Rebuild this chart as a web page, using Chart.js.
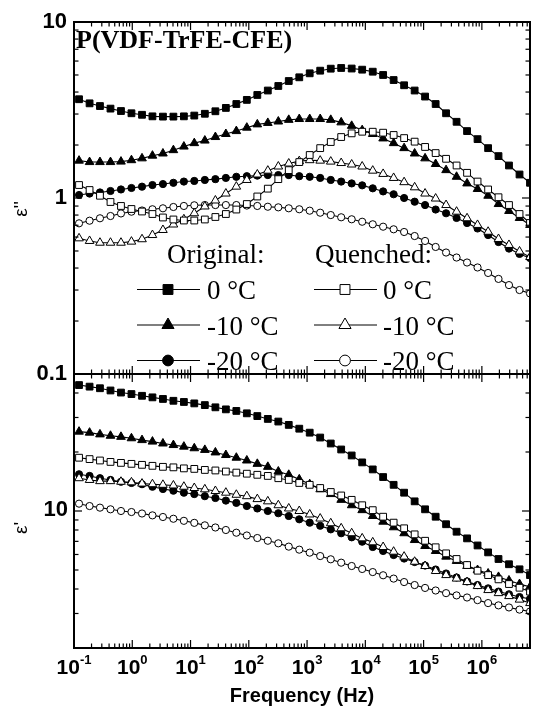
<!DOCTYPE html>
<html>
<head>
<meta charset="utf-8">
<script src="https://cdn.jsdelivr.net/npm/chart.js@4/dist/chart.umd.min.js"></script>
<style>
  html, body { margin: 0; padding: 0; background: #fff; }
  #wrap { width: 533px; height: 709px; }
</style>
</head>
<body>
<div id="wrap"><canvas id="chart" width="533" height="709"></canvas></div>
<script>
/* frequency (Hz) of each measurement point */
const freqHz = [0.122, 0.185, 0.279, 0.423, 0.640, 0.968, 1.47, 2.22, 3.36, 5.08,
  7.69, 11.6, 17.6, 26.7, 40.4, 61.1, 92.5, 140, 212, 321,
  485, 735, 1110, 1680, 2550, 3850, 5830, 8830, 13400, 20200,
  30600, 46300, 70200, 106000, 161000, 243000, 368000, 557000, 843000, 1280000,
  1930000, 2920000, 4430000, 6700000];

/* dielectric loss e'' */
const lossOrig0 = [3.64, 3.45, 3.33, 3.22, 3.12, 3.03, 2.97, 2.91, 2.90, 2.90,
  2.91, 2.94, 3.01, 3.11, 3.25, 3.42, 3.61, 3.85, 4.08, 4.33,
  4.62, 4.85, 5.11, 5.29, 5.43, 5.48, 5.44, 5.36, 5.22, 5.00,
  4.68, 4.37, 4.08, 3.77, 3.42, 3.03, 2.71, 2.40, 2.16, 1.92,
  1.73, 1.53, 1.36, 1.22];
const lossOrig10 = [1.63, 1.60, 1.60, 1.60, 1.61, 1.64, 1.68, 1.74, 1.79, 1.87,
  1.96, 2.05, 2.12, 2.22, 2.31, 2.40, 2.51, 2.62, 2.67, 2.72,
  2.78, 2.81, 2.81, 2.81, 2.78, 2.69, 2.57, 2.43, 2.31, 2.18,
  2.05, 1.92, 1.79, 1.68, 1.56, 1.44, 1.32, 1.21, 1.125, 1.03,
  0.924, 0.844, 0.770, 0.703];
const lossOrig20 = [1.04, 1.06, 1.075, 1.096, 1.118, 1.14, 1.16, 1.185, 1.20, 1.22,
  1.24, 1.25, 1.266, 1.28, 1.30, 1.32, 1.33, 1.34, 1.35, 1.35,
  1.35, 1.33, 1.32, 1.30, 1.266, 1.24, 1.21, 1.18, 1.135, 1.09,
  1.05, 1.00, 0.953, 0.912, 0.860, 0.819, 0.770, 0.721, 0.671, 0.616,
  0.562, 0.516, 0.481, 0.456];
const lossQuen0 = [1.185, 1.11, 1.03, 0.949, 0.901, 0.866, 0.838, 0.811, 0.775, 0.755,
  0.745, 0.745, 0.755, 0.780, 0.811, 0.860, 0.924, 1.02, 1.13, 1.28,
  1.44, 1.60, 1.755, 1.92, 2.08, 2.22, 2.33, 2.38, 2.38, 2.35,
  2.28, 2.19, 2.09, 1.95, 1.80, 1.67, 1.53, 1.39, 1.24, 1.118,
  1.01, 0.912, 0.811, 0.721];
const lossQuen10 = [0.590, 0.570, 0.557, 0.557, 0.557, 0.565, 0.583, 0.616, 0.658, 0.707,
  0.757, 0.819, 0.895, 0.968, 1.06, 1.16, 1.266, 1.36, 1.43, 1.51,
  1.57, 1.62, 1.64, 1.63, 1.61, 1.58, 1.55, 1.51, 1.43, 1.37,
  1.30, 1.23, 1.15, 1.06, 0.993, 0.912, 0.836, 0.767, 0.703, 0.643,
  0.585, 0.541, 0.497, 0.462];
const lossQuen20 = [0.718, 0.743, 0.767, 0.790, 0.817, 0.836, 0.849, 0.863, 0.874, 0.889,
  0.901, 0.909, 0.912, 0.912, 0.912, 0.912, 0.906, 0.901, 0.892, 0.885,
  0.874, 0.863, 0.847, 0.825, 0.800, 0.777, 0.757, 0.733, 0.709, 0.687,
  0.664, 0.641, 0.608, 0.570, 0.527, 0.490, 0.459, 0.430, 0.403, 0.375,
  0.347, 0.320, 0.300, 0.287];

/* permittivity e' */
const permOrig0 = [43.9, 43.1, 42.3, 41.2, 40.2, 39.5, 38.7, 38.0, 37.3, 36.5,
  36.0, 35.4, 34.7, 33.8, 33.0, 32.4, 31.5, 30.5, 29.5, 28.6,
  27.5, 26.3, 25.1, 23.7, 22.1, 20.6, 19.2, 17.7, 16.3, 14.9,
  13.6, 12.4, 11.2, 10.2, 9.35, 8.56, 7.84, 7.25, 6.67, 6.15,
  5.69, 5.35, 5.04, 4.71];
const permOrig10 = [25.4, 25.1, 24.6, 24.2, 23.9, 23.5, 23.0, 22.6, 22.1, 21.7,
  21.3, 20.9, 20.5, 19.9, 19.3, 18.7, 18.1, 17.4, 16.8, 15.9,
  15.3, 14.5, 13.7, 12.9, 12.2, 11.4, 10.7, 10.1, 9.43, 8.82,
  8.26, 7.70, 7.11, 6.63, 6.25, 5.85, 5.56, 5.24, 5.00, 4.80,
  4.61, 4.42, 4.24, 4.10];
const permOrig20 = [15.4, 15.1, 14.7, 14.4, 14.1, 13.9, 13.7, 13.3, 12.95, 12.7,
  12.4, 12.2, 11.9, 11.65, 11.3, 11.0, 10.6, 10.3, 10.0, 9.74,
  9.43, 9.07, 8.72, 8.41, 8.06, 7.70, 7.34, 6.97, 6.55, 6.25,
  5.96, 5.72, 5.49, 5.27, 5.03, 4.80, 4.58, 4.37, 4.19, 4.03,
  3.88, 3.76, 3.64, 3.56];
const permQuen0 = [18.7, 18.4, 18.1, 17.8, 17.6, 17.4, 17.2, 17.0, 16.8, 16.7,
  16.5, 16.4, 16.2, 16.1, 15.9, 15.7, 15.5, 15.3, 15.1, 14.7,
  14.4, 13.9, 13.6, 13.1, 12.5, 12.0, 11.4, 10.7, 10.1, 9.35,
  8.72, 8.16, 7.60, 7.05, 6.53, 6.08, 5.69, 5.30, 4.96, 4.71,
  4.48, 4.24, 4.06, 3.88];
const permQuen10 = [14.7, 14.4, 14.2, 14.2, 14.1, 14.0, 13.8, 13.7, 13.6, 13.5,
  13.3, 13.1, 12.9, 12.65, 12.4, 12.1, 11.9, 11.5, 11.2, 10.7,
  10.3, 10.0, 9.60, 9.15, 8.66, 8.16, 7.70, 7.25, 6.92, 6.55,
  6.20, 5.85, 5.51, 5.24, 4.94, 4.71, 4.52, 4.34, 4.14, 3.95,
  3.81, 3.68, 3.53, 3.39];
const permQuen20 = [10.9, 10.6, 10.4, 10.2, 10.0, 9.88, 9.71, 9.50, 9.32, 9.13,
  8.91, 8.70, 8.45, 8.24, 8.00, 7.75, 7.50, 7.28, 7.05, 6.84,
  6.58, 6.35, 6.13, 5.89, 5.67, 5.45, 5.24, 5.06, 4.88, 4.70,
  4.52, 4.34, 4.19, 4.05, 3.93, 3.81, 3.71, 3.62, 3.51, 3.39,
  3.30, 3.22, 3.14, 3.07];

const tempLabels = ["0 \u00B0C", "-10 \u00B0C", "-20 \u00B0C"];
const lossTicks = [0.1, 1, 10];
const permTicks = [10];
const freqDecades = [-1, 0, 1, 2, 3, 4, 5, 6];

const SANS = '"Liberation Sans", Arial, sans-serif';
const SERIF = '"Liberation Serif", "Times New Roman", serif';
const shapes = ["rect", "triangle", "circle"];
const radius = { rect: 4.8, triangle: 5, circle: 3.6 };

function series(label, values, axis, shape, filled) {
  return {
    label: label,
    yAxisID: axis,
    data: freqHz.map((f, i) => ({ x: f, y: values[i] })),
    borderColor: "#000",
    borderWidth: 1.1,
    pointStyle: shape,
    pointRadius: radius[shape],
    pointBackgroundColor: filled ? "#000" : "#fff",
    pointBorderColor: "#000",
    pointBorderWidth: 1,
    tension: 0,
    fill: false
  };
}

const lossOrig = [lossOrig0, lossOrig10, lossOrig20];
const lossQuen = [lossQuen0, lossQuen10, lossQuen20];
const permOrig = [permOrig0, permOrig10, permOrig20];
const permQuen = [permQuen0, permQuen10, permQuen20];

const datasets = [];
for (let k = 0; k < 3; k++) {
  datasets.push(series("Original " + tempLabels[k], lossOrig[k], "yLoss", shapes[k], true));
  datasets.push(series("Quenched " + tempLabels[k], lossQuen[k], "yLoss", shapes[k], false));
  datasets.push(series("Original " + tempLabels[k], permOrig[k], "yPerm", shapes[k], true));
  datasets.push(series("Quenched " + tempLabels[k], permQuen[k], "yPerm", shapes[k], false));
}

function marker(ctx, shape, x, y, r, filled) {
  ctx.beginPath();
  if (shape === "rect") {
    const s = r * Math.SQRT1_2;
    ctx.rect(x - s, y - s, 2 * s, 2 * s);
  } else if (shape === "triangle") {
    ctx.moveTo(x, y - r);
    ctx.lineTo(x + 0.866 * r, y + 0.5 * r);
    ctx.lineTo(x - 0.866 * r, y + 0.5 * r);
    ctx.closePath();
  } else {
    ctx.arc(x, y, r, 0, Math.PI * 2);
  }
  ctx.fillStyle = filled ? "#000" : "#fff";
  ctx.fill();
  ctx.lineWidth = 1;
  ctx.strokeStyle = "#000";
  ctx.stroke();
}

function line(ctx, x1, y1, x2, y2) {
  ctx.beginPath();
  ctx.moveTo(x1, y1);
  ctx.lineTo(x2, y2);
  ctx.stroke();
}

/* frame, inward ticks, labels and the hand-placed legend */
const framePlugin = {
  id: "frame",
  afterDatasetsDraw(chart) {
    const ctx = chart.ctx;
    const x = chart.scales.x, yL = chart.scales.yLoss, yP = chart.scales.yPerm;
    const L = x.left, R = x.right;
    ctx.save();
    ctx.strokeStyle = "#000";
    ctx.lineWidth = 2;
    ctx.strokeRect(L, yL.top, R - L, yL.bottom - yL.top);
    ctx.strokeRect(L, yP.top, R - L, yP.bottom - yP.top);

    // x ticks on every horizontal border
    ctx.lineWidth = 1.2;
    for (const d of freqDecades) {
      for (let m = 1; m <= 9; m++) {
        const v = m * Math.pow(10, d);
        if (v > x.max) break;
        const px = x.getPixelForValue(v);
        const len = m === 1 ? 8 : 4.5;
        line(ctx, px, yL.top, px, yL.top + len);
        line(ctx, px, yL.bottom - len, px, yL.bottom + len);
        line(ctx, px, yP.bottom, px, yP.bottom - len);
      }
    }
    // y ticks, loss panel
    for (const d of [-1, 0]) {
      for (let m = 1; m <= 9; m++) {
        const v = m * Math.pow(10, d);
        const py = yL.getPixelForValue(v);
        const len = m === 1 ? 8 : 4.5;
        line(ctx, L, py, L + len, py);
        line(ctx, R, py, R - len, py);
      }
    }
    // y ticks, permittivity panel
    for (const d of [0, 1]) {
      for (let m = 1; m <= 9; m++) {
        const v = m * Math.pow(10, d);
        if (v < yP.min || v > yP.max) continue;
        const py = yP.getPixelForValue(v);
        const len = v === 10 ? 8 : 4.5;
        line(ctx, L, py, L + len, py);
        line(ctx, R, py, R - len, py);
      }
    }

    // y tick labels
    ctx.fillStyle = "#000";
    ctx.font = "bold 22px " + SANS;
    ctx.textAlign = "right";
    ctx.textBaseline = "middle";
    for (const v of lossTicks) ctx.fillText(String(v), L - 7, yL.getPixelForValue(v));
    for (const v of permTicks) ctx.fillText(String(v), L - 6, yP.getPixelForValue(v) - 1);

    // x tick labels 10^n
    ctx.textAlign = "left";
    ctx.textBaseline = "alphabetic";
    for (const d of freqDecades) {
      const px = x.getPixelForValue(Math.pow(10, d));
      ctx.font = "bold 21px " + SANS;
      const wBase = ctx.measureText("10").width;
      ctx.font = "bold 13px " + SANS;
      const wExp = ctx.measureText(String(d)).width;
      const x0 = px - (wBase + wExp) / 2;
      ctx.font = "bold 21px " + SANS;
      ctx.fillText("10", x0, 674);
      ctx.font = "bold 13px " + SANS;
      ctx.fillText(String(d), x0 + wBase, 664);
    }

    // axis titles
    ctx.font = "bold 20px " + SANS;
    ctx.textAlign = "center";
    ctx.fillText("Frequency (Hz)", (L + R) / 2, 702);

    ctx.font = "19px " + SANS;
    ctx.textBaseline = "middle";
    ctx.save();
    ctx.translate(22, 209);
    ctx.rotate(-Math.PI / 2);
    ctx.fillText("\u03B5''", 0, 0);
    ctx.restore();
    ctx.save();
    ctx.translate(22, 528);
    ctx.rotate(-Math.PI / 2);
    ctx.fillText("\u03B5'", 0, 0);
    ctx.restore();

    // sample name
    ctx.textAlign = "left";
    ctx.textBaseline = "alphabetic";
    ctx.font = "bold 26px " + SERIF;
    ctx.fillText("P(VDF-TrFE-CFE)", 76, 48);

    // legend
    ctx.font = "27px " + SERIF;
    ctx.fillText("Original:", 167, 263);
    ctx.fillText("Quenched:", 315, 263);
    const rowY = [289.5, 325, 360.5];
    const legendR = { rect: 7, triangle: 7, circle: 5.4 };
    for (let k = 0; k < 3; k++) {
      const y = rowY[k];
      ctx.lineWidth = 1.2;
      ctx.strokeStyle = "#000";
      line(ctx, 137, y, 200, y);
      marker(ctx, shapes[k], 168, y, legendR[shapes[k]], true);
      line(ctx, 314, y, 377, y);
      marker(ctx, shapes[k], 345, y, legendR[shapes[k]], false);
      ctx.fillStyle = "#000";
      ctx.fillText(tempLabels[k], 207, y + 9.5);
      ctx.fillText(tempLabels[k], 383, y + 9.5);
    }
    ctx.restore();
  }
};

new Chart(document.getElementById("chart"), {
  type: "line",
  data: { datasets: datasets },
  options: {
    responsive: false,
    animation: false,
    layout: { autoPadding: false, padding: { left: 74, right: 3, top: 22, bottom: 61 } },
    plugins: { legend: { display: false }, tooltip: { enabled: false } },
    scales: {
      x: { type: "logarithmic", min: 0.1, max: 6.7e6, display: false },
      // left-hand stacked boxes are laid out in reverse order, so the lower panel comes first
      yPerm: { type: "logarithmic", position: "left", min: 2, max: 50, display: false,
        stack: "panels", stackWeight: 274 },
      yLoss: { type: "logarithmic", position: "left", min: 0.1, max: 10, display: false,
        stack: "panels", stackWeight: 352 }
    }
  },
  plugins: [framePlugin]
});
</script>
</body>
</html>
